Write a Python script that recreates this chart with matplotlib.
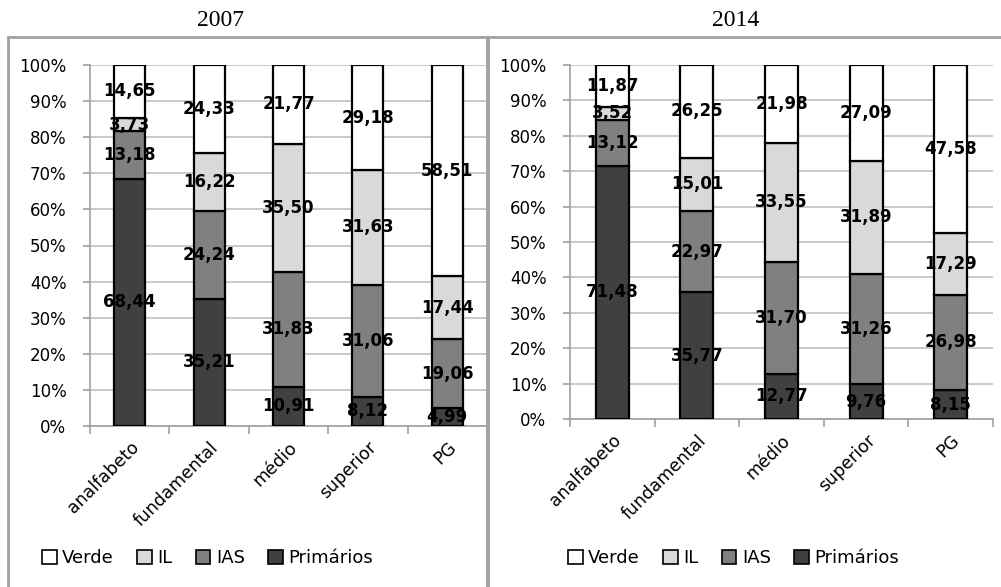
import matplotlib.pyplot as plt
from matplotlib.patches import Rectangle, Patch
import numpy as np

# categorias e valores (%)
categorias = ["analfabeto", "fundamental", "médio", "superior", "PG"]
series = ["Verde", "IL", "IAS", "Primários"]
cores = {"Primários": "#404040", "IAS": "#808080", "IL": "#d9d9d9", "Verde": "#ffffff"}

primarios_2007 = [68.44, 35.21, 10.91, 8.12, 4.99]
ias_2007 = [13.18, 24.24, 31.83, 31.06, 19.06]
il_2007 = [3.73, 16.22, 35.50, 31.63, 17.44]
verde_2007 = [14.65, 24.33, 21.77, 29.18, 58.51]

primarios_2014 = [71.48, 35.77, 12.77, 9.76, 8.15]
ias_2014 = [13.12, 22.97, 31.70, 31.26, 26.98]
il_2014 = [3.52, 15.01, 33.55, 31.89, 17.29]
verde_2014 = [11.87, 26.25, 21.98, 27.09, 47.58]

yticks = [0, 10, 20, 30, 40, 50, 60, 70, 80, 90, 100]


def painel(ax, dados):
    # barras empilhadas 100%
    x = np.arange(len(categorias))
    base = np.zeros(len(categorias))
    for nome in ["Primários", "IAS", "IL", "Verde"]:
        vals = np.array(dados[nome])
        ax.bar(x, vals, 0.39, bottom=base, color=cores[nome],
               edgecolor="black", linewidth=1.6, zorder=3)
        for xi, b, v in zip(x, base, vals):
            ax.text(xi, b + v / 2, f"{v:.2f}".replace(".", ","), ha="center",
                    va="center", fontsize=12, fontweight="bold", zorder=4)
        base = base + vals

    ax.set_xlim(-0.5, 4.5)
    ax.set_ylim(0, 100)
    ax.set_yticks(yticks)
    ax.set_yticklabels([f"{t}%" for t in yticks], fontsize=12)
    ax.yaxis.grid(True, color="#c0c0c0", linewidth=1.2, zorder=0)
    ax.set_xticks(x)
    ax.set_xticklabels(categorias, rotation=45, ha="right", rotation_mode="anchor",
                       fontsize=12.5)
    ax.set_xticks(np.arange(-0.5, 5, 1), minor=True)
    ax.tick_params(axis="x", which="major", length=0, pad=9)
    ax.tick_params(axis="x", which="minor", length=6, color="#a0a0a0", width=1.2)
    ax.tick_params(axis="y", length=5, color="#a0a0a0", width=1.2, pad=12)
    for s in ["top", "right"]:
        ax.spines[s].set_visible(False)
    for s in ["left", "bottom"]:
        ax.spines[s].set_color("#a0a0a0")
        ax.spines[s].set_linewidth(1.2)


fig = plt.figure(figsize=(10.01, 5.87), dpi=100)
W, H = 1001, 587

ax1 = fig.add_axes([90 / W, 1 - 426 / H, (487 - 90) / W, (426 - 65) / H])
ax2 = fig.add_axes([570 / W, 1 - 419 / H, (993 - 570) / W, (419 - 65) / H])

painel(ax1, {"Primários": primarios_2007, "IAS": ias_2007, "IL": il_2007, "Verde": verde_2007})
painel(ax2, {"Primários": primarios_2014, "IAS": ias_2014, "IL": il_2014, "Verde": verde_2014})

# molduras dos paineis
fig.patches.append(Rectangle((8 / W, -0.01), (487 - 8) / W, 1 - 37 / H + 0.01,
                             transform=fig.transFigure, fill=False,
                             edgecolor="#a0a0a0", linewidth=2))
fig.patches.append(Rectangle((488 / W, -0.01), (1010 - 488) / W, 1 - 37 / H + 0.01,
                             transform=fig.transFigure, fill=False,
                             edgecolor="#a0a0a0", linewidth=2))

fig.text(220 / W, 1 - 20 / H, "2007", ha="center", va="center",
         fontsize=17, family="Liberation Serif")
fig.text(736 / W, 1 - 20 / H, "2014", ha="center", va="center",
         fontsize=17, family="Liberation Serif")

# legendas
handles = [Patch(facecolor=cores[s], edgecolor="black", linewidth=1.2) for s in series]
for x0 in [26 / W, 552 / W]:
    fig.legend(handles, series, loc="center left", bbox_to_anchor=(x0, 1 - 558 / H),
               ncol=4, frameon=False, fontsize=13, handlelength=0.8,
               handleheight=0.8, handletextpad=0.3, columnspacing=1.3)

fig.savefig("out.png", dpi=100)
